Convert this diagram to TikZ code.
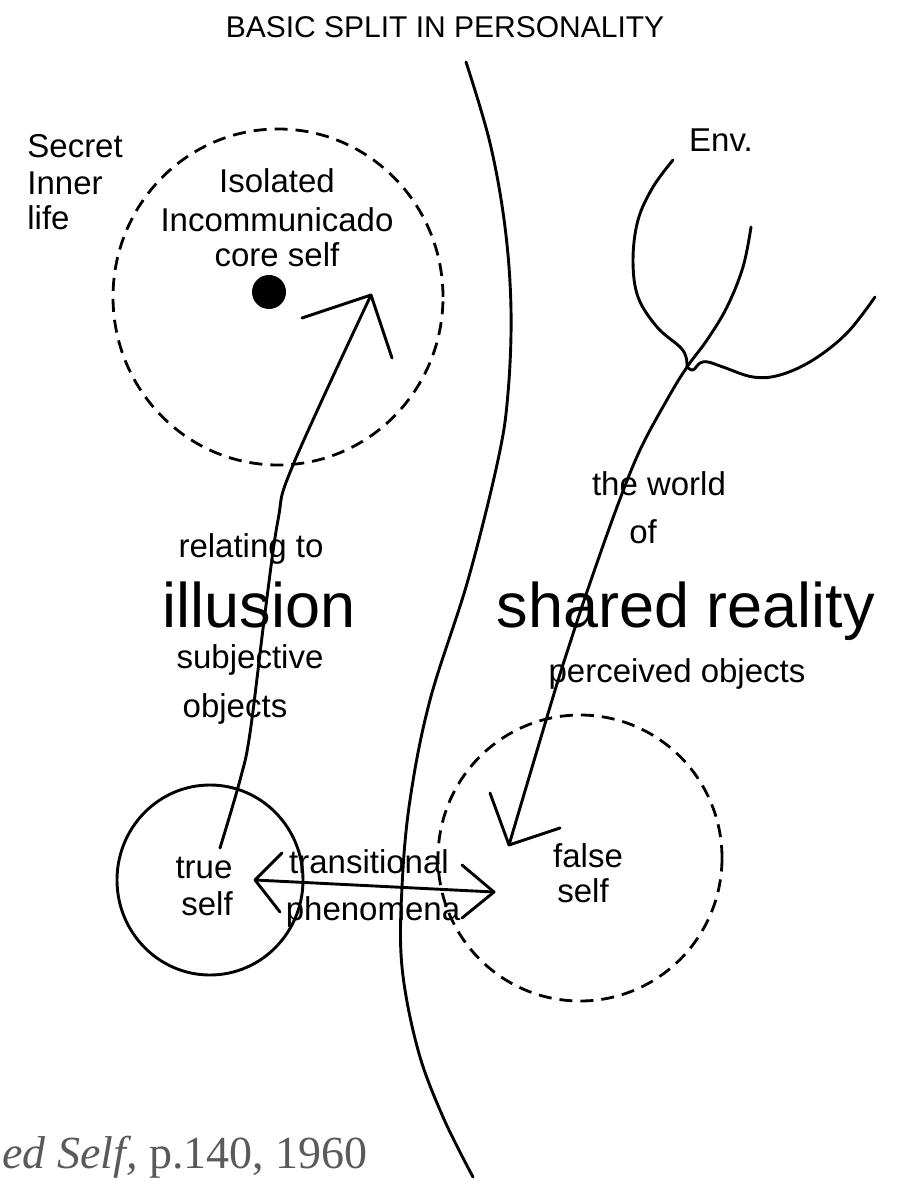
\documentclass[tikz,border=0pt]{standalone}
\usepackage{fontspec}
\setmainfont{Liberation Serif}
\setsansfont{Liberation Sans}
\definecolor{capgray}{RGB}{90,90,90}
\tikzset{
  ln/.style={line width=1.45pt, line cap=round, line join=round},
  dsh/.style={line width=1.4pt, dash pattern=on 6.5pt off 4pt},
  txt/.style={font=\sffamily\fontsize{16.5}{19}\selectfont, inner sep=0pt, anchor=base},
  bigtxt/.style={font=\sffamily\fontsize{31.5}{36}\selectfont, inner sep=0pt, anchor=base},
  ttl/.style={font=\sffamily\fontsize{15}{18}\selectfont, inner sep=0pt, anchor=base},
  captxt/.style={font=\rmfamily\fontsize{23}{27}\selectfont, text=capgray, inner sep=0pt, anchor=base east}
}
\begin{document}
\begin{tikzpicture}[x=0.5pt, y=-0.5pt]
\useasboundingbox (0,0) rectangle (897,1181);
\fill[white] (0,0) rectangle (897,1181);
\clip (0,0) rectangle (897,1181);

% title
\node[ttl] (title) at (445,38) {BASIC SPLIT IN PERSONALITY};

% dividing line
\draw[ln] plot[smooth, tension=0.6] coordinates {(466,62) (490,143) (505,227) (511,310) (508,393) (498,460) (468,580) (430,700) (410,800) (402,887) (402,967) (418,1050) (443,1117) (473,1177)};

% secret inner life
\node[txt, anchor=base west] (sec1) at (27,158) {Secret};
\node[txt, anchor=base west] (sec2) at (27,195) {Inner};
\node[txt, anchor=base west] (sec3) at (27,230) {life};

% core self circle
\draw[dsh] (278,297) ellipse [x radius=82.5pt, y radius=84pt];
\node[txt] (core1) at (277,193) {Isolated};
\node[txt] (core2) at (277,232) {Incommunicado};
\node[txt] (core3) at (277,267) {core self};
\fill (269,292) circle [radius=8.5pt];

% true self
\draw[ln] (210,880) ellipse [x radius=46.5pt, y radius=47.5pt];
\node[txt] (true1) at (204,878) {true};
\node[txt] (true2) at (207,915) {self};

% false self
\draw[dsh] (580,858) ellipse [x radius=71pt, y radius=71.5pt];
\node[txt] (false1) at (588,867) {false};
\node[txt] (false2) at (583,902) {self};

% arrow up: true self -> core
\coordinate (upS) at (220,848);
\coordinate (upT) at (371,295);
\coordinate (upW1) at (302,318);
\coordinate (upW2) at (392,358);
\draw[ln] plot[smooth, tension=0.6] coordinates {(upS) (240,780) (250,733) (265,613) (278,520) (293,465) (upT)};
\draw[ln] (upW1) -- (upT) -- (upW2);

% illusion texts
\node[txt] (rel) at (251,557) {relating to};
\node[bigtxt] (ill) at (259,627) {illusion};
\node[txt] (subj) at (250,668) {subjective};
\node[txt] (obj) at (235,717) {objects};

% environment branches
\node[txt] (env) at (721,152) {Env.};
\coordinate (jn) at (687,367);
\draw[ln] plot[smooth, tension=0.6] coordinates {(673,160) (653,187) (638,220) (633,260) (638,297) (657,327) (680,347) (686,357) (jn)};
\draw[ln] plot[smooth, tension=0.6] coordinates {(jn) (693,370) (700,363) (708,362) (723,367) (753,377) (780,375) (813,360) (847,333) (875,297)};
\coordinate (dnT) at (509,845);
\coordinate (dnW1) at (490,793);
\coordinate (dnW2) at (560,828);
\draw[ln] plot[smooth, tension=0.6] coordinates {(751,227) (743,267) (727,307) (707,340) (jn) (668,398) (640,450) (617,507) (590,583) (570,643) (553,697) (dnT)};
\draw[ln] (dnW1) -- (dnT) -- (dnW2);

% shared reality texts
\node[txt] (world) at (659,495) {the world};
\node[txt] (of) at (643,543) {of};
\node[bigtxt] (shared) at (686,627) {shared reality};
\node[txt] (perc) at (677,682) {perceived objects};

% transitional double arrow
\coordinate (tL) at (255,880);
\coordinate (tR) at (494,892);
\draw[ln] (tL) -- (tR);
\draw[ln] (282,853) -- (tL) -- (280,912);
\draw[ln] (462,865) -- (tR) -- (462,918);
\node[txt] (trans) at (369,873) {transitional};
\node[txt] (phen) at (373,920) {phenomena};

% caption
\node[captxt] (caption) at (368,1168) {\textit{ed Self,} p.140, 1960};
\end{tikzpicture}
\end{document}
